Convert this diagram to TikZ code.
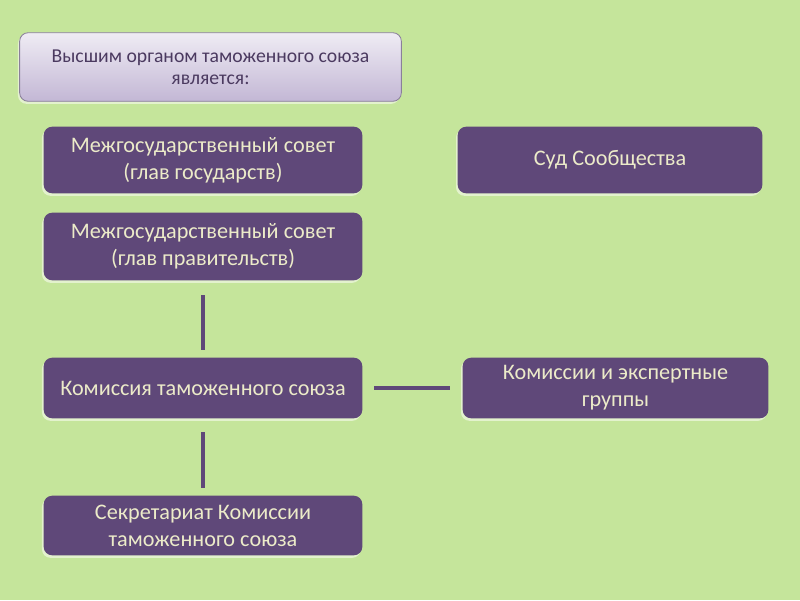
\documentclass[tikz,border=0pt]{standalone}
\usepackage{fontspec}
\setmainfont{Carlito}
\usepackage{tikz}
\usetikzlibrary{backgrounds}
\definecolor{fonZelenyj}{HTML}{C5E59B}
\definecolor{svetZelenyj}{HTML}{E3F2CD}
\definecolor{temnoFiolet}{HTML}{5F4879}
\definecolor{svetFiolet}{HTML}{EFECF4}
\definecolor{seroFiolet}{HTML}{C3B7D5}
\definecolor{kraiFiolet}{HTML}{8A7F9A}
\definecolor{blednyjTekst}{HTML}{ECEBC9}
\definecolor{tekstZag}{HTML}{4B3A60}

\tikzset{
  blok/.style={text=blednyjTekst, align=center, inner sep=0pt,
    font=\fontsize{15.8}{19}\selectfont},
  svyaz/.style={temnoFiolet, line width=2.8pt},
}

\begin{document}
\begin{tikzpicture}[x=0.025cm,y=-0.025cm]
\useasboundingbox (0,0) rectangle (800,600);
\node[blok, text=tekstZag, font=\fontsize{14}{15.5}\selectfont, minimum width=9.525cm, minimum height=1.7cm] (zag) at (210.5,67) {Высшим органом таможенного союза\\является:};
\node[blok, minimum width=7.95cm, minimum height=1.65cm] (sovetGos) at (203,160) {Межгосударственный совет\\(глав государств)};
\node[blok, minimum width=7.6cm, minimum height=1.65cm] (sud) at (610,160) {Суд Сообщества};
\node[blok, minimum width=7.95cm, minimum height=1.675cm] (sovetPrav) at (203,246.5) {Межгосударственный совет\\(глав правительств)};
\node[blok, minimum width=7.95cm, minimum height=1.5cm] (komissiya) at (203,388) {Комиссия таможенного союза};
\node[blok, minimum width=7.625cm, minimum height=1.5cm] (gruppy) at (615.5,388) {Комиссии и экспертные\\группы};
\node[blok, minimum width=7.95cm, minimum height=1.475cm] (sekretariat) at (203,525.5) {Секретариат Комиссии\\таможенного союза};

\draw[svyaz, shorten <=0.375cm, shorten >=0.2cm] (sovetPrav) -- (komissiya);
\draw[svyaz, shorten <=0.35cm, shorten >=0.2cm] (komissiya) -- (sekretariat);
\draw[svyaz, shorten <=0.3cm, shorten >=0.325cm] (komissiya) -- (gruppy);

\begin{scope}[on background layer]
\fill[fonZelenyj] (0,0) rectangle (800,600);
% svetlyj kraj pod blokami
\foreach \n in {zag,sovetGos,sud,sovetPrav,komissiya,gruppy,sekretariat}
  \fill[svetZelenyj, transform canvas={shift={(-1.2pt,-1.8pt)}}] (\n.west) [rounded corners=6pt] |- (\n.north east) [sharp corners] -- (\n.east) [rounded corners=6pt] |- (\n.south west) [sharp corners] -- cycle;
\foreach \n in {sovetGos,sud,sovetPrav,komissiya,gruppy,sekretariat}
  \fill[temnoFiolet] (\n.west) [rounded corners=6pt] |- (\n.north east) [sharp corners] -- (\n.east) [rounded corners=6pt] |- (\n.south west) [sharp corners] -- cycle;
\path[top color=svetFiolet, bottom color=seroFiolet, draw=kraiFiolet, line width=0.6pt] (zag.west) [rounded corners=6pt] |- (zag.north east) [sharp corners] -- (zag.east) [rounded corners=6pt] |- (zag.south west) [sharp corners] -- cycle;
\end{scope}
\end{tikzpicture}
\end{document}
